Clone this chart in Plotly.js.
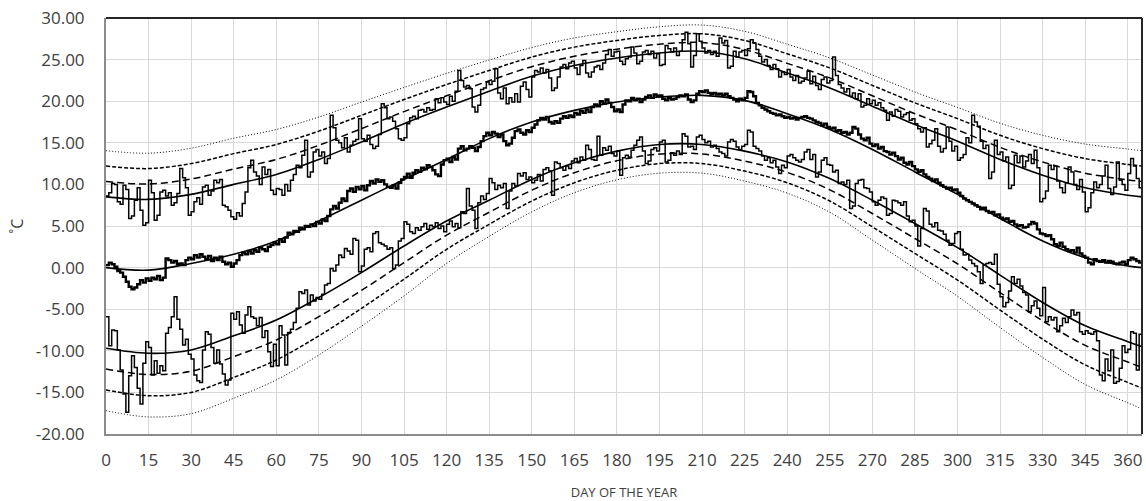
<!DOCTYPE html>
<html>
<head>
<meta charset="utf-8">
<script src="https://cdn.plot.ly/plotly-3.0.1.min.js"></script>
<style>html,body{margin:0;padding:0;background:#fff;}#chart{width:1146px;height:501px;}</style>
</head>
<body>
<div id="chart"></div>
<script>
// Daily values, day 0 .. 365
const maxT = [
8.6,9.0,10.1,10.0,7.9,7.6,9.9,9.4,5.9,6.2,
8.1,9.6,6.9,5.1,5.4,10.5,9.0,5.7,6.3,9.1,
9.3,8.6,9.0,7.5,7.8,8.9,11.9,10.8,9.6,6.3,
6.7,7.9,8.4,7.6,9.7,9.9,8.7,9.2,10.5,10.2,
10.6,7.5,7.3,6.9,6.1,5.8,6.6,6.2,7.7,9.1,
12.0,12.9,11.5,11.0,10.0,12.1,11.2,11.8,9.3,8.8,
9.5,9.4,8.7,10.0,9.2,10.5,11.2,12.3,12.0,13.5,
15.3,10.9,11.5,13.9,14.2,13.4,13.9,12.5,13.1,18.3,
16.8,15.3,15.0,14.4,15.6,13.9,14.7,15.2,15.4,17.9,
15.5,15.2,15.9,14.8,14.3,14.6,16.0,19.7,19.2,17.9,
18.1,17.6,16.7,15.5,15.3,15.6,17.3,18.0,18.2,17.9,
18.9,19.0,18.7,19.2,18.9,19.0,20.3,19.8,20.4,19.9,
19.6,20.6,20.0,21.2,23.7,22.5,21.7,21.9,21.5,19.3,
18.7,19.5,21.4,21.6,22.3,22.0,22.4,23.9,21.0,20.3,
21.6,19.7,20.4,19.9,20.9,19.9,21.8,22.3,21.4,20.5,
22.9,23.7,23.5,24.0,23.4,23.8,22.8,21.3,21.6,22.9,
24.1,24.4,23.9,24.6,24.8,24.0,23.2,24.3,24.9,23.4,
22.9,23.5,24.1,24.3,23.8,24.6,25.6,26.2,25.4,25.9,
26.0,24.8,24.4,25.1,25.3,26.5,25.8,24.5,24.8,25.9,
26.1,25.6,26.0,25.2,25.7,24.3,24.4,26.7,26.3,25.9,
26.4,25.5,26.0,27.4,28.3,26.9,24.1,25.5,28.1,27.2,
26.4,25.8,26.1,25.6,26.0,25.4,27.6,27.0,27.3,24.0,
24.2,26.0,25.3,25.9,26.1,25.5,26.3,27.4,27.0,26.2,
25.4,24.7,25.0,24.3,23.8,24.4,23.9,22.9,23.5,23.2,
23.8,22.9,22.5,23.1,22.2,22.4,22.8,23.6,22.1,23.0,
21.9,21.4,22.6,22.9,22.2,22.5,25.3,23.1,22.0,21.6,
21.1,21.5,20.6,21.0,20.3,20.9,19.3,19.5,20.3,19.7,
20.1,19.5,19.8,19.2,18.9,17.7,18.7,18.2,19.0,18.8,
18.1,18.4,18.6,17.7,17.9,17.3,16.7,16.3,16.8,14.5,
14.9,15.3,16.7,14.6,13.9,14.3,16.9,15.2,14.0,14.6,
12.9,13.2,13.6,15.6,15.0,18.3,17.5,17.0,15.2,14.3,
14.7,10.7,11.5,15.3,13.6,13.9,12.8,13.3,9.5,9.9,
13.5,12.6,13.4,12.1,12.8,13.6,12.5,14.1,12.0,7.9,
8.3,9.2,12.3,11.8,12.2,10.4,9.6,9.0,10.2,12.1,
11.5,10.0,9.4,10.6,9.1,6.7,7.2,9.0,10.3,9.6,
10.0,11.0,12.3,9.5,8.8,9.7,12.7,10.5,10.0,9.3,
11.3,13.1,12.2,10.7,9.6,10.4
];
const meanT = [
0.3,0.6,0.4,0.1,-0.4,-0.6,-1.1,-1.7,-2.3,-2.6,
-2.4,-2.0,-1.5,-1.8,-1.3,-1.6,-1.2,-1.4,-1.0,-1.5,
-1.2,1.1,0.9,0.6,0.8,0.4,0.5,0.3,0.9,1.2,
1.0,1.5,1.2,1.6,1.3,1.0,1.4,0.8,1.2,0.9,
1.3,0.7,0.4,0.6,0.1,0.5,0.9,1.5,1.8,1.6,
2.0,1.7,2.1,1.9,2.4,2.2,2.0,2.5,2.7,3.0,
2.8,3.4,3.1,3.6,4.2,4.0,4.4,4.3,4.8,4.6,
5.0,4.9,5.2,5.0,5.5,5.3,5.8,5.6,6.2,7.0,
7.4,7.1,7.8,8.3,8.0,9.2,9.5,9.1,9.7,9.4,
9.8,9.3,9.9,10.4,10.1,10.6,10.3,10.5,10.0,9.7,
9.6,9.9,9.5,10.2,10.6,10.9,11.3,10.8,11.4,11.7,
11.5,12.0,11.8,12.3,12.1,11.7,11.2,11.0,12.4,12.9,
13.1,12.7,13.3,13.0,14.3,14.6,14.1,14.3,14.6,14.4,
14.0,14.5,15.2,15.8,16.2,15.9,16.3,16.1,15.7,16.0,
15.2,14.7,14.9,15.6,16.4,16.6,16.2,16.0,16.5,16.3,
16.8,17.2,17.7,18.0,17.8,18.1,17.5,17.3,17.6,17.4,
17.9,18.2,18.0,18.3,18.1,18.6,18.4,18.8,18.6,19.0,
18.7,19.3,19.6,19.4,20.0,19.7,20.2,19.8,19.3,18.8,
19.0,18.7,19.6,20.1,20.0,20.4,20.1,20.3,19.9,20.2,
20.5,20.7,20.4,20.8,20.6,20.7,20.3,20.1,20.4,20.2,
20.3,20.5,20.7,20.6,20.8,20.2,19.9,20.1,20.9,21.2,
21.1,21.3,21.0,20.9,21.0,20.8,20.9,20.7,20.9,20.6,
20.4,20.2,20.0,20.3,20.1,20.4,21.2,21.1,20.6,19.8,
19.5,19.2,19.0,18.8,18.6,18.5,18.3,18.4,18.2,18.0,
18.1,17.9,18.0,17.8,18.0,18.1,18.2,18.0,17.9,17.7,
17.5,17.4,17.1,17.3,16.9,16.7,16.8,16.4,16.5,16.2,
16.3,16.0,16.2,16.9,16.7,16.0,15.5,15.3,15.6,14.9,
14.6,14.8,14.3,14.5,14.0,13.9,13.6,13.8,13.4,13.0,
13.2,12.6,12.4,12.7,12.2,11.8,11.5,11.7,11.2,10.9,
10.7,10.4,10.6,10.2,9.9,9.7,9.5,9.6,9.3,9.4,
9.0,8.6,8.3,8.1,7.9,7.7,7.5,7.3,7.0,7.2,
6.8,6.6,6.7,6.3,6.4,6.0,5.8,5.9,5.5,5.6,
5.2,5.0,5.1,4.8,4.9,5.2,5.5,5.3,4.6,4.1,
4.0,3.8,3.9,3.4,2.8,2.6,3.0,2.5,2.2,2.0,
2.1,1.8,2.4,1.7,1.4,1.2,0.6,0.4,1.0,0.8,
0.7,0.9,0.6,0.8,0.7,0.5,0.4,0.6,0.7,0.4,
0.9,1.2,1.0,0.8,0.6,0.9
];
const minT = [
-5.9,-9.4,-7.5,-7.6,-9.9,-12.3,-15.2,-17.4,-13.0,-10.6,
-12.0,-14.5,-16.4,-11.5,-8.9,-9.6,-12.9,-11.2,-12.7,-11.8,
-12.4,-7.9,-7.2,-5.9,-3.5,-6.2,-7.4,-9.3,-8.6,-10.4,
-11.0,-12.9,-13.6,-13.8,-9.9,-7.7,-8.0,-9.6,-11.5,-9.9,
-11.6,-12.8,-14.1,-13.5,-5.5,-6.2,-5.3,-6.9,-7.9,-5.7,
-4.7,-5.9,-6.1,-7.0,-6.0,-8.4,-7.6,-10.1,-11.9,-9.2,
-11.8,-7.0,-8.1,-11.7,-7.8,-7.4,-6.6,-4.9,-2.9,-3.1,
-2.7,-4.5,-3.3,-4.0,-3.6,-3.8,-3.2,-2.1,-1.9,-0.1,
-0.4,0.3,1.5,1.2,2.3,2.0,1.6,3.5,3.3,-0.5,
0.2,2.2,2.4,1.9,4.1,4.3,3.0,2.8,2.6,2.2,
2.4,-0.1,0.3,3.2,3.5,5.5,5.2,4.3,4.1,4.8,
4.5,4.9,5.3,4.6,5.1,4.9,5.4,4.7,5.0,4.3,
5.2,5.6,4.9,5.3,4.8,6.7,6.5,9.5,7.4,6.9,
4.7,7.8,8.6,8.2,8.9,10.7,10.2,9.4,9.9,9.6,
10.1,7.1,9.2,10.1,9.8,11.3,11.0,11.4,10.6,10.9,
10.2,10.5,11.2,10.4,11.8,12.0,11.6,8.7,12.7,12.5,
12.0,11.7,12.2,11.9,12.8,13.1,12.6,13.3,12.9,14.7,
14.2,13.0,12.9,15.8,13.5,14.4,14.1,14.6,13.7,13.4,
14.0,11.1,13.2,13.5,13.3,14.1,14.7,15.3,15.7,14.0,
12.5,12.8,14.2,14.4,14.0,15.1,15.3,12.7,12.9,13.8,
13.5,14.0,13.6,16.1,15.8,14.5,14.6,14.2,15.7,15.9,
15.4,15.0,15.2,14.5,14.7,14.3,13.9,13.7,13.4,15.1,
15.4,15.2,14.5,14.2,14.6,14.8,16.5,16.3,14.6,14.3,
14.0,13.4,12.9,13.2,12.6,12.9,12.1,11.3,12.3,12.0,
13.4,13.6,13.2,12.9,12.7,13.0,13.9,14.2,13.0,13.6,
10.9,11.5,12.9,13.2,12.4,12.3,11.5,11.7,10.1,10.3,
10.0,10.5,7.1,7.4,10.1,10.5,10.6,9.6,9.5,9.1,
7.9,7.5,8.1,8.5,8.3,6.3,6.5,8.1,8.0,7.8,
7.5,7.9,6.2,5.5,5.7,5.0,2.6,4.7,7.1,6.8,
5.2,4.9,5.4,4.5,4.4,4.0,3.3,2.7,2.9,4.1,
4.3,2.2,1.5,1.6,0.9,0.5,0.2,-0.5,-1.9,0.3,
0.5,0.6,0.4,1.6,-2.0,-3.5,-4.7,-4.2,-2.8,-1.1,
-1.9,-1.4,-2.2,-3.0,-3.3,-5.3,-4.6,-4.0,-4.9,-5.8,
-2.4,-6.5,-5.9,-6.3,-6.0,-7.7,-7.0,-6.1,-6.6,-5.9,
-5.1,-5.7,-5.4,-7.7,-8.0,-7.6,-7.9,-8.0,-7.7,-8.8,
-12.9,-13.6,-11.0,-12.4,-9.9,-13.9,-13.7,-12.1,-9.4,-10.2,
-9.8,-7.7,-7.9,-12.3,-8.0,-9.0
];

// Smooth curves, read at these days
const fitDays = [0,15,30,45,60,75,90,105,120,135,150,165,180,195,210,225,240,255,270,285,300,315,330,345,360,365];
const maxFit  = [8.5,8.2,8.8,10.0,11.2,13.0,15.1,17.3,19.3,21.2,23.0,24.3,25.2,25.8,26.0,25.1,23.4,21.6,19.4,17.2,15.2,13.0,11.1,9.6,8.7,8.5];
const maxUp1  = [10.35,10.05,10.65,11.85,13.0,14.7,16.7,18.75,20.65,22.45,24.15,25.4,26.25,26.85,27.05,26.2,24.55,22.8,20.65,18.5,16.55,14.45,12.7,11.35,10.55,10.35];
const maxUp2  = [12.2,11.9,12.5,13.7,14.8,16.4,18.3,20.2,22.0,23.7,25.3,26.5,27.3,27.9,28.1,27.3,25.7,24.0,21.9,19.8,17.9,15.9,14.3,13.1,12.4,12.2];
const maxUp3  = [14.05,13.75,14.35,15.55,16.6,18.1,19.9,21.65,23.35,24.95,26.45,27.6,28.35,28.95,29.15,28.4,26.85,25.2,23.15,21.1,19.25,17.35,15.9,14.85,14.25,14.05];
const meanFit = [0.0,-0.3,0.5,1.6,3.2,5.6,8.1,10.6,13.0,15.5,17.5,18.9,19.9,20.5,20.7,20.1,18.5,16.6,14.2,11.5,8.8,5.9,3.2,1.2,0.2,0.0];
const minFit  = [-9.7,-10.3,-9.9,-8.2,-6.3,-3.6,-0.6,2.6,5.6,8.1,10.6,12.6,14.0,14.8,14.8,14.0,12.7,10.7,8.1,5.3,2.4,-0.9,-4.2,-7.0,-8.9,-9.5];
const minLo1  = [-12.2,-12.85,-12.45,-10.7,-8.7,-5.9,-2.75,0.6,3.9,6.65,9.3,11.4,12.85,13.65,13.65,12.8,11.45,9.35,6.5,3.5,0.45,-3.0,-6.4,-9.35,-11.35,-12.0];
const minLo2  = [-14.7,-15.4,-15.0,-13.2,-11.1,-8.2,-4.9,-1.4,2.2,5.2,8.0,10.2,11.7,12.5,12.5,11.6,10.2,8.0,4.9,1.7,-1.5,-5.1,-8.6,-11.7,-13.8,-14.5];
const minLo3  = [-17.2,-17.95,-17.55,-15.7,-13.5,-10.5,-7.05,-3.4,0.5,3.75,6.7,9.0,10.55,11.35,11.35,10.4,8.95,6.65,3.3,-0.1,-3.45,-7.2,-10.8,-14.05,-16.25,-17.0];

// Axis ticks
const yTickVals = [-20,-15,-10,-5,0,5,10,15,20,25,30];
const yTickText = ['-20.00','-15.00','-10.00','-5.00','0.00','5.00','10.00','15.00','20.00','25.00','30.00'];
const xTitle = 'DAY OF THE YEAR';
const yTitle = '˚C';

const days = maxT.map((_, i) => i);

function band(y, dash, width) {
  return {x: fitDays, y: y, type: 'scatter', mode: 'lines',
          line: {color: '#000', width: width, dash: dash, shape: 'spline', smoothing: 1},
          hoverinfo: 'skip', showlegend: false};
}
function fit(y) {
  return {x: fitDays, y: y, type: 'scatter', mode: 'lines',
          line: {color: '#000', width: 1.6, shape: 'spline', smoothing: 1},
          hoverinfo: 'skip', showlegend: false};
}
function steps(y, width) {
  return {x: days, y: y, type: 'scatter', mode: 'lines',
          line: {color: '#000', width: width, shape: 'hv'},
          hoverinfo: 'skip', showlegend: false};
}

const longDash = '7px,4px';
const shortDash = '4px,2px';
const dots = '1px,2px';

const traces = [
  band(maxUp3, dots, 1), band(maxUp2, shortDash, 1.5), band(maxUp1, longDash, 1.5),
  band(minLo3, dots, 1), band(minLo2, shortDash, 1.5), band(minLo1, longDash, 1.5),
  fit(maxFit), fit(meanFit), fit(minFit),
  steps(maxT, 1.5), steps(minT, 1.5), steps(meanT, 2.4)
];

const tickFont = {family: 'Open Sans, sans-serif', size: 17, color: '#404040'};

const layout = {
  width: 1146, height: 501,
  margin: {l: 106, r: 4, t: 18, b: 67},
  paper_bgcolor: '#fff', plot_bgcolor: '#fff',
  showlegend: false,
  xaxis: {
    range: [0, 365], tick0: 0, dtick: 15, tickmode: 'linear',
    showgrid: true, gridcolor: '#d9d9d9', gridwidth: 1, zeroline: false,
    showline: true, linecolor: '#8c8c8c', linewidth: 2,
    ticks: 'outside', ticklen: 10, tickcolor: 'rgba(0,0,0,0)',
    tickfont: tickFont,
    title: {text: xTitle, font: {family: 'Open Sans, sans-serif', size: 13, color: '#404040'}, standoff: 20},
    automargin: false
  },
  yaxis: {
    range: [-20, 30], tickmode: 'array', tickvals: yTickVals, ticktext: yTickText,
    showgrid: true, gridcolor: '#d9d9d9', gridwidth: 1, zeroline: false,
    showline: true, linecolor: '#8c8c8c', linewidth: 2,
    ticks: 'outside', ticklen: 16, tickcolor: 'rgba(0,0,0,0)',
    tickfont: tickFont,
    title: {text: yTitle, font: {family: 'Open Sans, sans-serif', size: 16, color: '#404040'}, standoff: 8},
    automargin: false
  },
  shapes: [
    {type: 'line', xref: 'paper', yref: 'paper', x0: 0, x1: 1, y0: 1, y1: 1, line: {color: '#262626', width: 2}, layer: 'above'},
    {type: 'line', xref: 'paper', yref: 'paper', x0: 1, x1: 1, y0: 0, y1: 1, line: {color: '#262626', width: 2}, layer: 'above'}
  ]
};

Plotly.newPlot('chart', traces, layout, {staticPlot: true, displayModeBar: false});
</script>
</body>
</html>
